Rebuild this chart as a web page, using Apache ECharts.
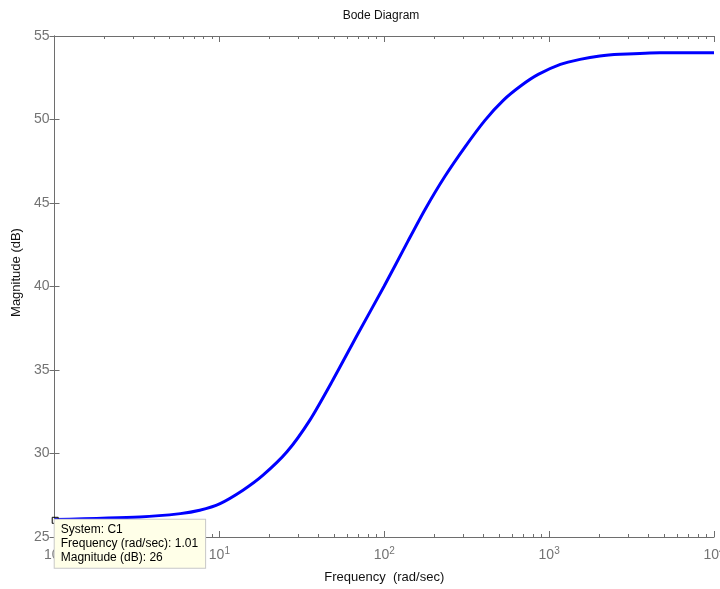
<!DOCTYPE html>
<html>
<head>
<meta charset="utf-8">
<script src="https://cdn.jsdelivr.net/npm/echarts@6/dist/echarts.min.js"></script>
<style>
  html, body { margin: 0; padding: 0; background: #fff; }
  #bode { width: 720px; height: 589px; }
</style>
</head>
<body>
<div id="bode"></div>
<script>
// frequency (rad/sec) and magnitude (dB)
const freq = [1, 3.3, 5.8, 7.6, 10.1, 13.9, 18.4, 25.7, 35.4, 48.8, 69.5, 99.6, 139, 176.5, 233.5, 308.5, 408, 527, 681, 859, 1170, 1540, 2030, 2690, 4700, 10000];
const mag = [26.05, 26.2, 26.4, 26.6, 27.0, 27.8, 28.7, 30.1, 32.0, 34.4, 37.2, 40.0, 42.7, 44.6, 46.6, 48.35, 49.95, 51.15, 52.05, 52.7, 53.3, 53.6, 53.8, 53.9, 54.0, 54.0];
// data tip
const tipFreq = 1.01;
const tipMag = 26;

// minor ticks 2..9 in each decade, in log10 units for the helper axis
let minorTicks = [];
for (let d = 0; d < 4; d++) {
  for (let m = 2; m <= 9; m++) {
    minorTicks.push(d + Math.log10(m));
  }
}

const axisGray = '#6e6e6e';
const labelGray = '#737373';
const font = "'Liberation Sans', Arial, sans-serif";

const myChart = echarts.init(document.getElementById('bode'));

let logAxis = function (pos, showLabel) {
  return {
    type: 'log',
    logBase: 10,
    min: 1,
    max: 10000,
    position: pos,
    axisLine: { show: true, lineStyle: { color: axisGray, width: 1 } },
    axisTick: { show: true, inside: true, length: 6, lineStyle: { color: axisGray } },
    splitLine: { show: false },
    axisLabel: {
      show: showLabel,
      margin: 9,
      fontFamily: font,
      formatter: function (v) {
        return '{b|10}{s|' + Math.round(Math.log10(v)) + '}';
      },
      rich: {
        b: { fontSize: 14, color: labelGray, fontFamily: font },
        s: { fontSize: 10, color: labelGray, fontFamily: font, padding: [0, 0, 9, 0] }
      }
    },
    name: showLabel ? 'Frequency  (rad/sec)' : '',
    nameLocation: 'middle',
    nameGap: 34,
    nameTextStyle: { fontSize: 13, color: '#111', fontFamily: font }
  };
};

let minorAxis = function (pos) {
  return {
    type: 'value',
    min: 0,
    max: 4,
    position: pos,
    axisLine: { show: false },
    axisLabel: { show: false },
    splitLine: { show: false },
    axisTick: {
      show: true,
      inside: true,
      length: 3,
      customValues: minorTicks,
      lineStyle: { color: axisGray }
    }
  };
};

let magAxis = function (pos, showLabel) {
  return {
    type: 'value',
    min: 25,
    max: 55,
    interval: 5,
    position: pos,
    axisLine: { show: true, lineStyle: { color: axisGray, width: 1 } },
    axisTick: { show: true, inside: true, length: 5, lineStyle: { color: axisGray } },
    splitLine: { show: false },
    axisLabel: {
      show: showLabel,
      margin: 5,
      fontSize: 14,
      color: labelGray,
      fontFamily: font
    },
    name: showLabel ? 'Magnitude (dB)' : '',
    nameLocation: 'middle',
    nameGap: 27,
    nameTextStyle: { fontSize: 13, color: '#111', fontFamily: font, padding: [0, 0, 0, 28] }
  };
};

let option = {
  backgroundColor: '#fff',
  animation: false,
  title: {
    text: 'Bode Diagram',
    left: 376,
    top: 5,
    textAlign: 'center',
    textStyle: { fontSize: 12, fontWeight: 'normal', color: '#111', fontFamily: font }
  },
  grid: {
    left: 54.5,
    right: 6,
    top: 36,
    bottom: 52,
    containLabel: false,
    outerBoundsMode: 'none'
  },
  xAxis: [
    logAxis('bottom', true),
    logAxis('top', false),
    minorAxis('bottom'),
    minorAxis('top')
  ],
  yAxis: [
    magAxis('left', true),
    magAxis('right', false)
  ],
  series: [
    {
      name: 'C1',
      type: 'line',
      xAxisIndex: 0,
      yAxisIndex: 0,
      data: freq.map((f, i) => [f, mag[i]]),
      showSymbol: false,
      smooth: 0.25,
      lineStyle: { color: '#0000ff', width: 3 },
      markPoint: {
        symbol: 'rect',
        symbolSize: 6,
        itemStyle: { color: 'transparent', borderColor: '#000', borderWidth: 1 },
        label: {
          show: true,
          position: [3, 3],
          align: 'left',
          verticalAlign: 'top',
          backgroundColor: '#ffffe8',
          borderColor: '#c8c8c8',
          borderWidth: 1,
          padding: [3, 7, 3, 6],
          fontSize: 12,
          lineHeight: 14,
          color: '#000',
          fontFamily: font,
          formatter: 'System: C1\nFrequency (rad/sec): ' + tipFreq.toFixed(2) + '\nMagnitude (dB): ' + tipMag
        },
        data: [{ coord: [tipFreq, tipMag] }]
      }
    }
  ]
};

myChart.setOption(option);
</script>
</body>
</html>
